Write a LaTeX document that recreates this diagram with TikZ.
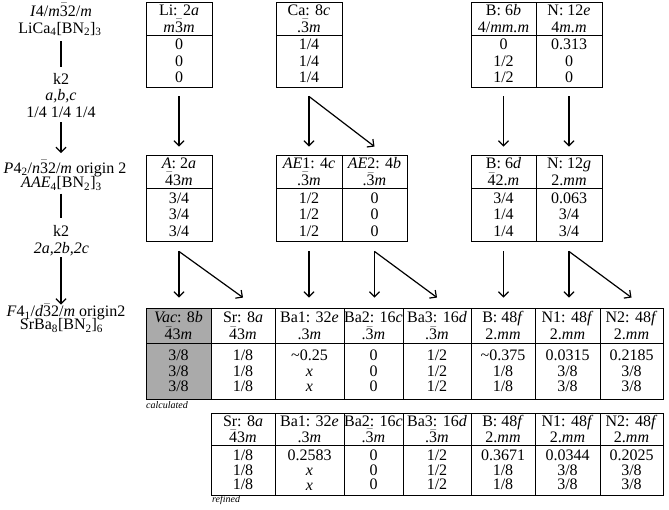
\documentclass[tikz,border=0pt]{standalone}
\usepackage{fontspec}
\setmainfont{Liberation Serif}
\usetikzlibrary{arrows.meta,calc}
\definecolor{vacgray}{RGB}{170,170,170}
\newcommand{\ob}[1]{\ensuremath{\bar{\mbox{#1}}}}
\newcommand{\mkcol}[9][]{%
  \node[cellbox,#1,minimum width=#4,minimum height={#6-#5}] (#2h) at (#3,{(#5+#6)/2}) {#8};
  \node[cellbox,#1,minimum width=#4,minimum height={#7-#6}] (#2d) at (#3,{(#6+#7)/2}) {#9};}
\tikzset{
  cellbox/.style={draw, line width=0.9pt, inner sep=0pt, align=center, font=\fontsize{16}{16.7}\selectfont},
  lbl/.style={inner sep=0pt, anchor=base, font=\fontsize{16}{17}\selectfont},
  note/.style={inner sep=0pt, anchor=base west, font=\fontsize{10}{11}\selectfont\itshape},
  arr/.style={line width=1.2pt, -{Straight Barb[length=5pt,width=10pt]}},
  plain/.style={line width=1.2pt},
  btab/.style={font=\fontsize{16}{15.5}\selectfont},
  rtab/.style={font=\fontsize{16}{14.7}\selectfont}
}
\begin{document}
\begin{tikzpicture}[x=1pt,y=-1pt]
\useasboundingbox (0,0) rectangle (669,509);

% left column
\node[lbl] (g1a) at (61,16) {\textit{I}4/\textit{m}\ob{3}2/\textit{m}};
\node[lbl] (g1b) at (60,33) {LiCa\textsubscript{4}[BN\textsubscript{2}]\textsubscript{3}};
\node[lbl] (k1a) at (61,84) {k2};
\node[lbl] (k1b) at (61,100) {\textit{a,b,c}};
\node[lbl] (k1c) at (61,117) {1/4 1/4 1/4};
\node[lbl] (g2a) at (65,173) {\textit{P}4\textsubscript{2}/\textit{n}\ob{3}2/\textit{m} origin 2};
\node[lbl] (g2b) at (61.5,187.5) {\textit{AAE}\textsubscript{4}[BN\textsubscript{2}]\textsubscript{3}};
\node[lbl] (k2a) at (61,236.7) {k2};
\node[lbl] (k2b) at (61.5,253.3) {\textit{2a,2b,2c}};
\node[lbl] (g3a) at (66,316.5) {\textit{F}4\textsubscript{1}/\textit{d}\ob{3}2/\textit{m} origin2};
\node[lbl] (g3b) at (61.5,329.5) {SrBa\textsubscript{8}[BN\textsubscript{2}]\textsubscript{6}};

\draw[plain] ($(g1b.base)+(1,8)$) -- ($(k1a.base)+(0,-17)$);
\draw[arr] ($(k1c.base)+(0,5)$) -- ($(g2a.base)+(-4,-20)$);
\draw[plain] ($(g2b.base)+(-0.5,6)$) -- ($(k2a.base)+(0,-19)$);
\draw[arr] ($(k2b.base)+(-0.5,4)$) -- ($(g3a.base)+(-5,-12)$);

% top row
\mkcol{li}{179}{66}{2}{35}{87}{Li: 2\textit{a}\\\textit{m}\ob{3}\textit{m}}{0\\0\\0}
\mkcol{ca}{309}{66}{2}{35}{87}{Ca: 8\textit{c}\\.\ob{3}\textit{m}}{1/4\\1/4\\1/4}
\mkcol{bt}{503.5}{65}{2}{35}{87}{B: 6\textit{b}\\4/\textit{mm.m}}{0\\1/2\\1/2}
\mkcol{nt}{569}{66}{2}{35}{87}{N: 12\textit{e}\\4\textit{m.m}}{0.313\\0\\0}

% middle row
\mkcol{am}{179}{66}{155}{188}{241}{\textit{A}: 2\textit{a}\\\ob{4}3\textit{m}}{3/4\\3/4\\3/4}
\mkcol{aeo}{309}{66}{155}{188}{241}{\textit{AE}1: 4\textit{c}\\.\ob{3}\textit{m}}{1/2\\1/2\\1/2}
\mkcol{aet}{374.5}{65}{155}{188}{241}{\textit{AE}2: 4\textit{b}\\.\ob{3}\textit{m}}{0\\0\\0}
\mkcol{bm}{503.5}{65}{155}{188}{241}{B: 6\textit{d}\\\ob{4}2.\textit{m}}{3/4\\1/4\\1/4}
\mkcol{nm}{569}{66}{155}{188}{241}{N: 12\textit{g}\\2.\textit{mm}}{0.063\\3/4\\3/4}

% calculated row
\mkcol[btab,fill=vacgray]{vc}{178.5}{65}{308}{343}{399}{\textit{Vac}: 8\textit{b}\\[1.5pt]\ob{4}3\textit{m}}{3/8\\3/8\\3/8}
\mkcol[btab]{src}{243}{64}{308}{343}{399}{Sr: 8\textit{a}\\[1.5pt]\ob{4}3\textit{m}}{1/8\\1/8\\1/8}
\mkcol[btab]{bac}{309.5}{69}{308}{343}{399}{Ba1: 32\textit{e}\\[1.5pt].3\textit{m}}{\textasciitilde0.25\\\textit{x}\\\textit{x}}
\mkcol[btab]{bbc}{373.5}{59}{308}{343}{399}{Ba2: 16\textit{c}\\[1.5pt].\ob{3}\textit{m}}{0\\0\\0}
\mkcol[btab]{bcc}{437}{68}{308}{343}{399}{Ba3: 16\textit{d}\\[1.5pt].\ob{3}\textit{m}}{1/2\\1/2\\1/2}
\mkcol[btab]{bc}{503}{64}{308}{343}{399}{B: 48\textit{f}\\[1.5pt]2.\textit{mm}}{\textasciitilde0.375\\1/8\\1/8}
\mkcol[btab]{nac}{567.5}{65}{308}{343}{399}{N1: 48\textit{f}\\[1.5pt]2.\textit{mm}}{0.0315\\3/8\\3/8}
\mkcol[btab]{nbc}{631.5}{63}{308}{343}{399}{N2: 48\textit{f}\\[1.5pt]2.\textit{mm}}{0.2185\\3/8\\3/8}
\node[note] (calc) at (146,408) {calculated};

% refined row
\mkcol[rtab]{srr}{243}{64}{413}{445}{495}{Sr: 8\textit{a}\\[1pt]\ob{4}3\textit{m}}{1/8\\1/8\\1/8}
\mkcol[rtab]{bar}{309.5}{69}{413}{445}{495}{Ba1: 32\textit{e}\\[1pt].3\textit{m}}{0.2583\\\textit{x}\\\textit{x}}
\mkcol[rtab]{bbr}{373.5}{59}{413}{445}{495}{Ba2: 16\textit{c}\\[1pt].\ob{3}\textit{m}}{0\\0\\0}
\mkcol[rtab]{bcr}{437}{68}{413}{445}{495}{Ba3: 16\textit{d}\\[1pt].\ob{3}\textit{m}}{1/2\\1/2\\1/2}
\mkcol[rtab]{br}{503}{64}{413}{445}{495}{B: 48\textit{f}\\[1pt]2.\textit{mm}}{0.3671\\1/8\\1/8}
\mkcol[rtab]{nar}{567.5}{65}{413}{445}{495}{N1: 48\textit{f}\\[1pt]2.\textit{mm}}{0.0344\\3/8\\3/8}
\mkcol[rtab]{nbr}{631.5}{63}{413}{445}{495}{N2: 48\textit{f}\\[1pt]2.\textit{mm}}{0.2025\\3/8\\3/8}
\node[note] (refd) at (212,502) {refined};

% arrows top -> middle
\coordinate (liS) at ($(lid.south)+(0,9)$);
\coordinate (caS) at ($(cad.south)+(0,9)$);
\coordinate (btS) at ($(btd.south)+(0,9)$);
\coordinate (ntS) at ($(ntd.south)+(0,9)$);
\draw[arr] (liS) -- ($(amh.north)+(0,-8)$);
\draw[arr] (caS) -- ($(aeoh.north)+(0,-8)$);
\draw[arr] (caS) -- ($(aeth.north)+(0,-8)$);
\draw[arr] (btS) -- ($(bmh.north)+(0,-8)$);
\draw[arr] (ntS) -- ($(nmh.north)+(0,-8)$);

% arrows middle -> bottom
\coordinate (amS) at ($(amd.south)+(0,10)$);
\coordinate (aeoS) at ($(aeod.south)+(0,10)$);
\coordinate (aetS) at ($(aetd.south)+(0,10)$);
\coordinate (bmS) at ($(bmd.south)+(0,10)$);
\coordinate (nmS) at ($(nmd.south)+(0,10)$);
\draw[arr] (amS) -- ($(vch.north)+(0.5,-10)$);
\draw[arr] (amS) -- ($(srch.north)+(0,-10)$);
\draw[arr] (aeoS) -- ($(bach.north)+(-0.5,-10)$);
\draw[arr] (aetS) -- ($(bbch.north)+(1,-10)$);
\draw[arr] (aetS) -- ($(bcch.north)+(0,-10)$);
\draw[arr] (bmS) -- ($(bch.north)+(0.5,-10)$);
\draw[arr] (nmS) -- ($(nach.north)+(1.5,-10)$);
\draw[arr] (nmS) -- ($(nbch.north)+(0,-10)$);
\end{tikzpicture}
\end{document}
